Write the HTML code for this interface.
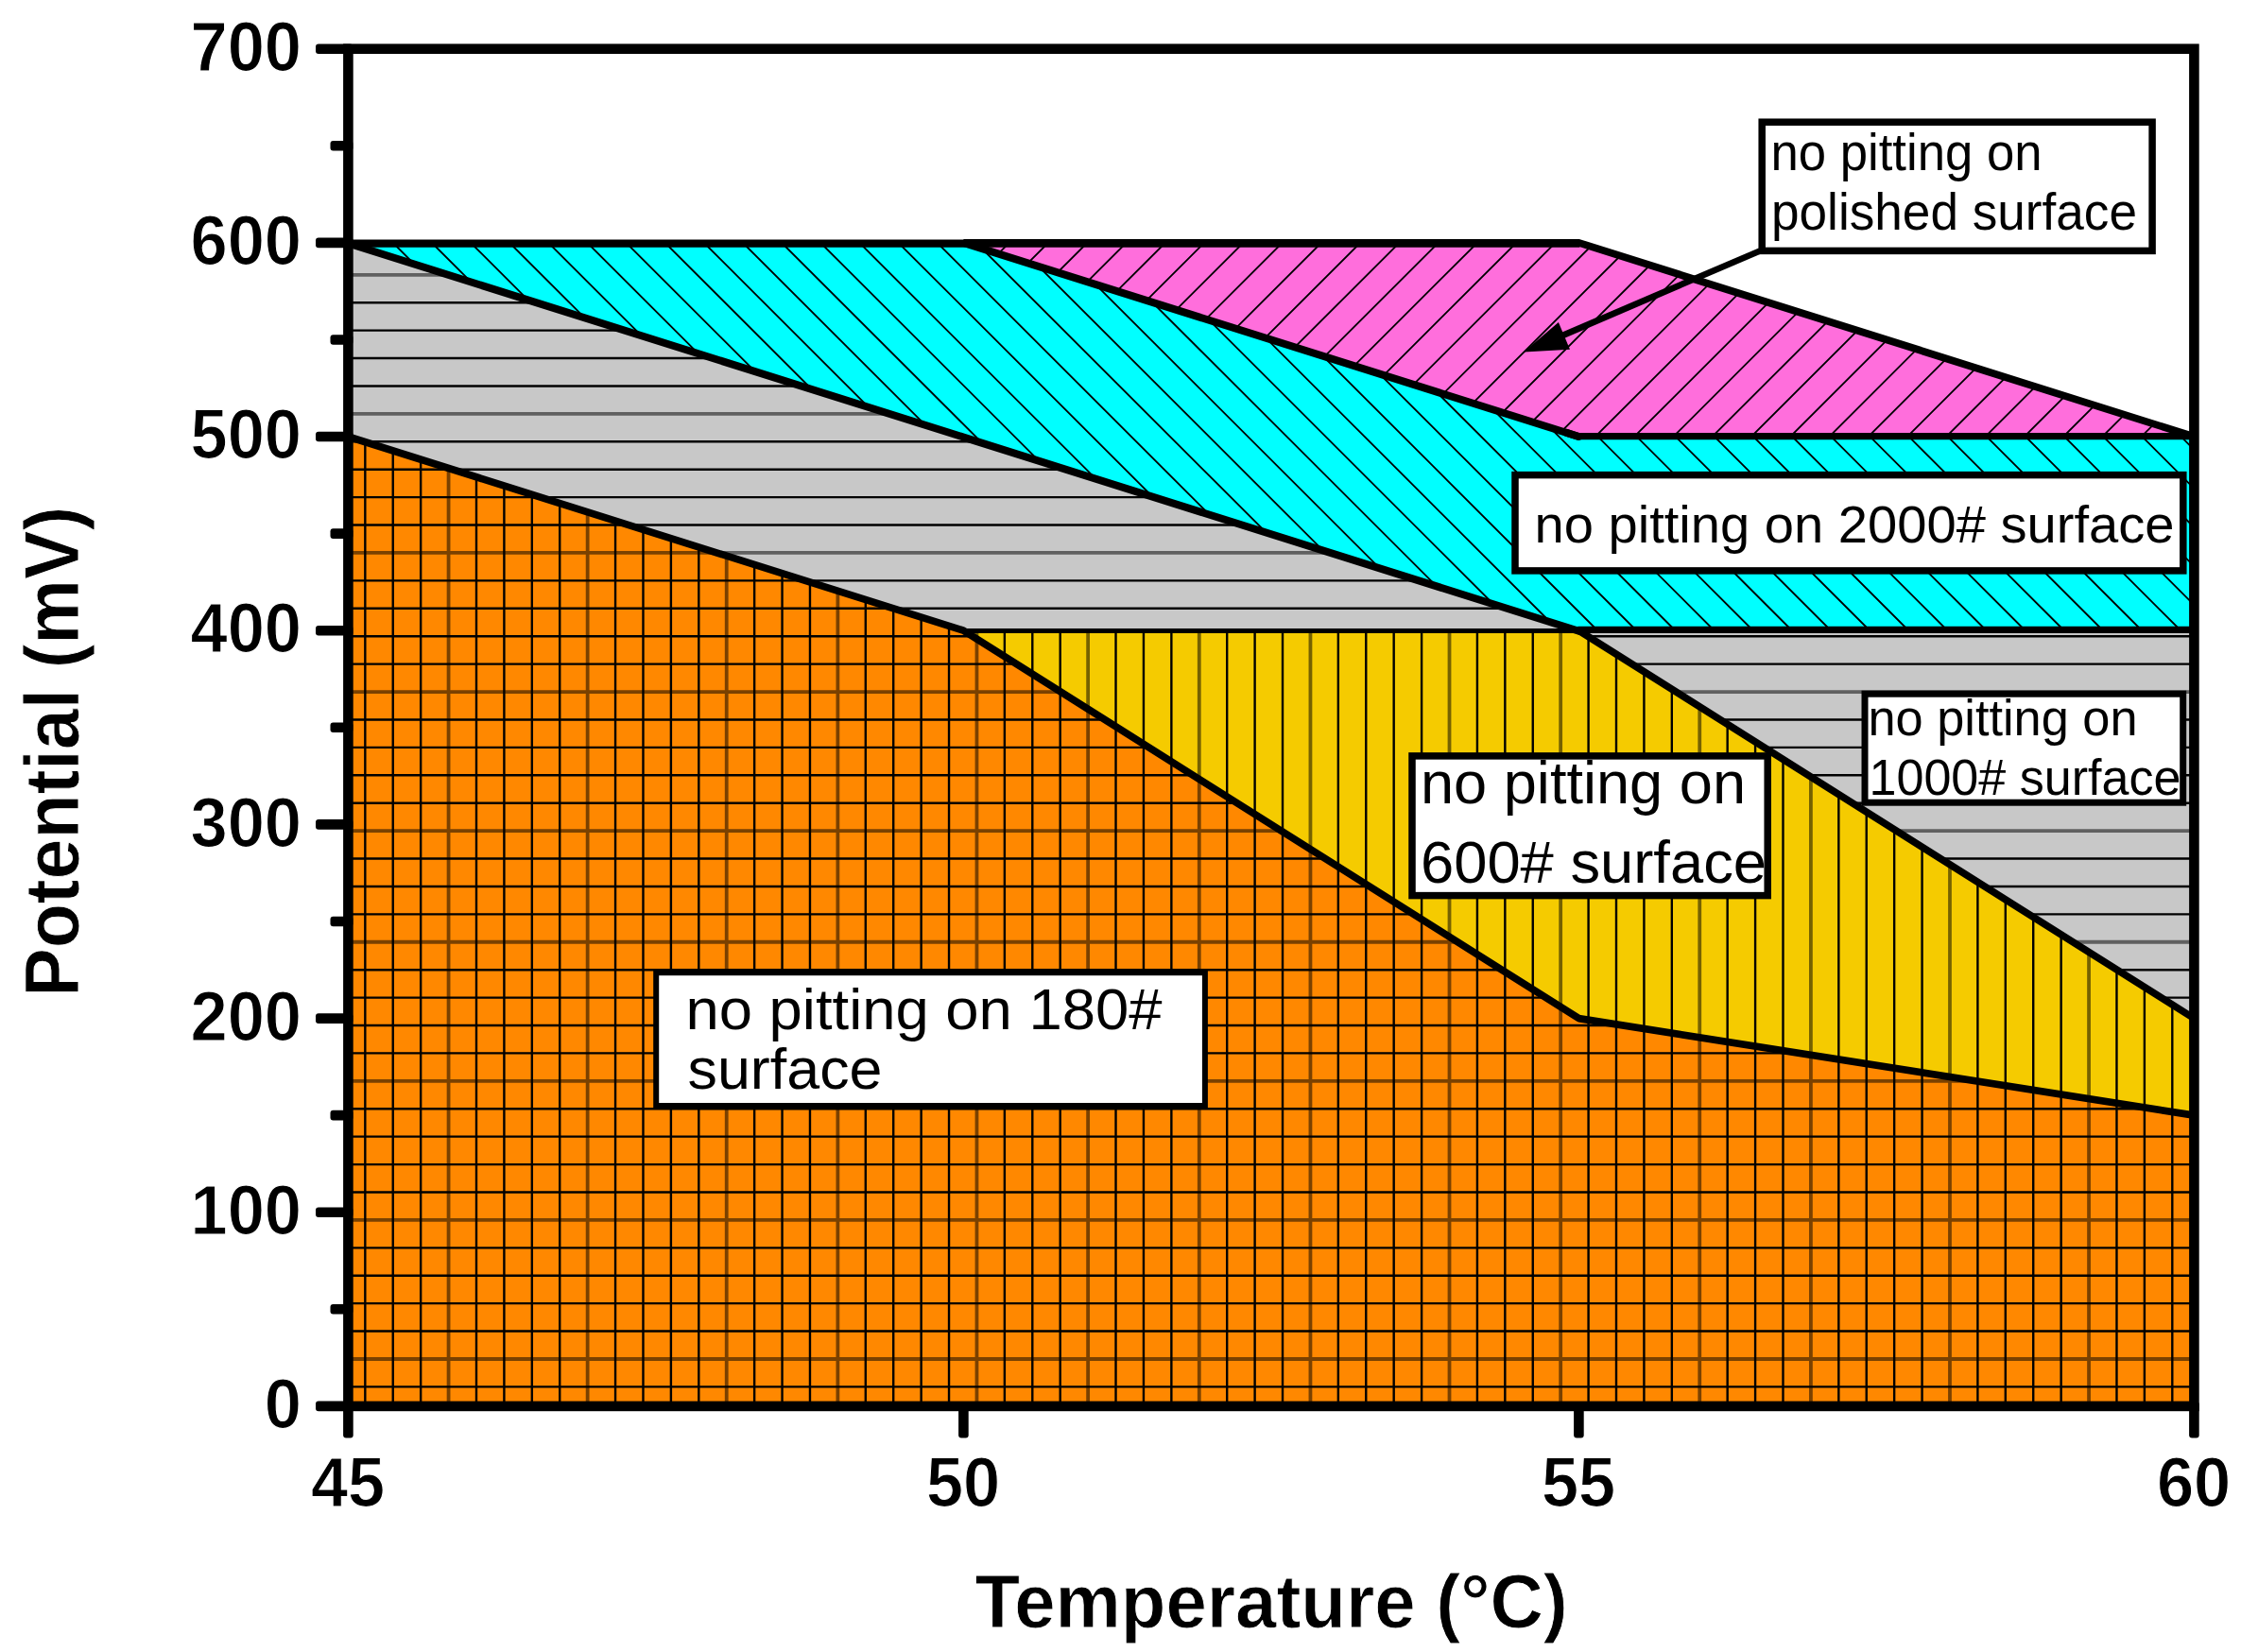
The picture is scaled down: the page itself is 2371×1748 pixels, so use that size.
<!DOCTYPE html>
<html><head><meta charset="utf-8"><title>Pitting potential map</title>
<style>
html,body{margin:0;padding:0;background:#fff;}
svg{display:block;}
text{font-family:"Liberation Sans",sans-serif;fill:#000;}
.b{font-weight:bold;}
.tk{font-size:73.4px;font-weight:bold;stroke:#fff;stroke-width:1.1px;}
.ti{font-size:80.6px;font-weight:bold;stroke:#fff;stroke-width:0.9px;}
</style></head><body>
<svg width="2371" height="1748" viewBox="0 0 2371 1748">
<rect width="2371" height="1748" fill="#fff"/>
<defs>
<clipPath id="cO"><polygon points="368.4,1487.9 368.4,462.0 1019.4,667.2 1670.4,1077.6 2321.4,1180.1 2321.4,1487.9"/></clipPath>
<clipPath id="cY"><polygon points="1019.4,667.2 1670.4,667.2 2321.4,1077.6 2321.4,1180.1 1670.4,1077.6"/></clipPath>
<clipPath id="cG"><polygon points="368.4,462.0 368.4,256.9 1019.4,462.0 1670.4,667.2 1019.4,667.2"/><polygon points="1670.4,667.2 2321.4,667.2 2321.4,1077.6"/></clipPath>
<clipPath id="cC"><polygon points="368.4,256.9 1019.4,256.9 1670.4,462.0 2321.4,462.0 2321.4,667.2 1670.4,667.2 1019.4,462.0"/></clipPath>
<clipPath id="cM"><polygon points="1019.4,256.9 1670.4,256.9 2321.4,462.0 1670.4,462.0"/></clipPath>
</defs>

<polygon points="368.4,1487.9 368.4,462.0 1019.4,667.2 1670.4,1077.6 2321.4,1180.1 2321.4,1487.9" fill="#FF8800"/>
<polygon points="1019.4,667.2 1670.4,667.2 2321.4,1077.6 2321.4,1180.1 1670.4,1077.6" fill="#F5CB00"/>
<polygon points="368.4,462.0 368.4,256.9 1019.4,462.0 1670.4,667.2 1019.4,667.2" fill="#C8C8C8"/><polygon points="1670.4,667.2 2321.4,667.2 2321.4,1077.6" fill="#C8C8C8"/>
<polygon points="368.4,256.9 1019.4,256.9 1670.4,462.0 2321.4,462.0 2321.4,667.2 1670.4,667.2 1019.4,462.0" fill="#00FFFF"/>
<polygon points="1019.4,256.9 1670.4,256.9 2321.4,462.0 1670.4,462.0" fill="#FF6EDC"/>
<g fill="none" stroke="#000" stroke-width="2.4">
<path clip-path="url(#cO)" d="M2298.30 462V1488M2268.89 462V1488M2239.47 462V1488M2180.64 462V1488M2151.23 462V1488M2121.81 462V1488M2092.39 462V1488M2033.57 462V1488M2004.15 462V1488M1974.74 462V1488M1945.32 462V1488M1886.49 462V1488M1857.08 462V1488M1827.66 462V1488M1768.83 462V1488M1739.42 462V1488M1710.00 462V1488M1680.59 462V1488M1621.76 462V1488M1592.34 462V1488M1562.93 462V1488M1504.10 462V1488M1474.68 462V1488M1445.27 462V1488M1415.85 462V1488M1357.02 462V1488M1327.61 462V1488M1298.19 462V1488M1239.36 462V1488M1209.95 462V1488M1180.53 462V1488M1121.70 462V1488M1092.29 462V1488M1062.87 462V1488M1004.04 462V1488M974.63 462V1488M945.21 462V1488M915.80 462V1488M856.97 462V1488M827.55 462V1488M798.14 462V1488M739.31 462V1488M709.89 462V1488M680.48 462V1488M651.06 462V1488M592.23 462V1488M562.82 462V1488M533.40 462V1488M503.99 462V1488M445.16 462V1488M415.74 462V1488M386.33 462V1488M368 1467.40H2321M368 1408.57H2321M368 1379.16H2321M368 1349.74H2321M368 1320.33H2321M368 1261.50H2321M368 1232.08H2321M368 1202.66H2321M368 1173.25H2321M368 1114.42H2321M368 1085.01H2321M368 1055.59H2321M368 1026.18H2321M368 967.35H2321M368 937.93H2321M368 908.52H2321M368 849.69H2321M368 820.27H2321M368 790.86H2321M368 761.44H2321M368 702.61H2321M368 673.20H2321M368 643.78H2321M368 614.37H2321M368 555.54H2321M368 526.12H2321M368 496.71H2321M368 467.29H2321"/>
<path clip-path="url(#cY)" d="M2298.30 667V1180M2268.89 667V1180M2239.47 667V1180M2180.64 667V1180M2151.23 667V1180M2121.81 667V1180M2092.39 667V1180M2033.57 667V1180M2004.15 667V1180M1974.74 667V1180M1945.32 667V1180M1886.49 667V1180M1857.08 667V1180M1827.66 667V1180M1768.83 667V1180M1739.42 667V1180M1710.00 667V1180M1680.59 667V1180M1621.76 667V1180M1592.34 667V1180M1562.93 667V1180M1504.10 667V1180M1474.68 667V1180M1445.27 667V1180M1415.85 667V1180M1357.02 667V1180M1327.61 667V1180M1298.19 667V1180M1239.36 667V1180M1209.95 667V1180M1180.53 667V1180M1121.70 667V1180M1092.29 667V1180M1062.87 667V1180"/>
<path clip-path="url(#cG)" d="M368 1055.59H2321M368 1026.18H2321M368 967.35H2321M368 937.93H2321M368 908.52H2321M368 849.69H2321M368 820.27H2321M368 790.86H2321M368 761.44H2321M368 702.61H2321M368 673.20H2321M368 643.78H2321M368 614.37H2321M368 555.54H2321M368 526.12H2321M368 496.71H2321M368 467.29H2321M368 408.46H2321M368 379.05H2321M368 349.63H2321M368 320.22H2321M368 261.39H2321"/>
<path stroke-width="1.8" clip-path="url(#cC)" d="M-77.75 257L332.59 667M-36.61 257L373.73 667M4.52 257L414.86 667M45.66 257L456.00 667M86.79 257L497.13 667M127.93 257L538.27 667M169.06 257L579.40 667M210.20 257L620.54 667M251.33 257L661.67 667M292.47 257L702.81 667M333.60 257L743.94 667M374.74 257L785.08 667M415.87 257L826.21 667M457.01 257L867.35 667M498.14 257L908.48 667M539.28 257L949.62 667M580.41 257L990.75 667M621.55 257L1031.89 667M662.68 257L1073.02 667M703.82 257L1114.16 667M744.95 257L1155.29 667M786.09 257L1196.43 667M827.22 257L1237.56 667M868.36 257L1278.70 667M909.49 257L1319.83 667M950.63 257L1360.97 667M991.76 257L1402.10 667M1032.90 257L1443.24 667M1074.03 257L1484.37 667M1115.17 257L1525.51 667M1156.30 257L1566.64 667M1197.44 257L1607.78 667M1238.57 257L1648.91 667M1279.71 257L1690.05 667M1320.84 257L1731.18 667M1361.98 257L1772.32 667M1403.11 257L1813.45 667M1444.25 257L1854.59 667M1485.38 257L1895.72 667M1526.52 257L1936.86 667M1567.65 257L1977.99 667M1608.79 257L2019.13 667M1649.92 257L2060.26 667M1691.06 257L2101.40 667M1732.19 257L2142.53 667M1773.33 257L2183.67 667M1814.46 257L2224.80 667M1855.60 257L2265.94 667M1896.73 257L2307.07 667M1937.87 257L2348.21 667M1979.00 257L2389.34 667M2020.14 257L2430.48 667M2061.27 257L2471.61 667M2102.41 257L2512.75 667M2143.54 257L2553.88 667M2184.68 257L2595.02 667M2225.81 257L2636.15 667M2266.95 257L2677.29 667M2308.08 257L2718.42 667M2349.22 257L2759.56 667"/>
<path stroke-width="1.8" clip-path="url(#cM)" d="M985.09 257L779.92 462M1026.36 257L821.19 462M1067.63 257L862.46 462M1108.90 257L903.73 462M1150.17 257L945.00 462M1191.44 257L986.27 462M1232.71 257L1027.54 462M1273.98 257L1068.81 462M1315.25 257L1110.08 462M1356.52 257L1151.35 462M1397.79 257L1192.62 462M1439.06 257L1233.89 462M1480.33 257L1275.16 462M1521.60 257L1316.43 462M1562.87 257L1357.70 462M1604.14 257L1398.97 462M1645.41 257L1440.24 462M1686.68 257L1481.51 462M1727.95 257L1522.78 462M1769.22 257L1564.05 462M1810.49 257L1605.32 462M1851.76 257L1646.59 462M1893.03 257L1687.86 462M1934.30 257L1729.13 462M1975.57 257L1770.40 462M2016.84 257L1811.67 462M2058.11 257L1852.94 462M2099.38 257L1894.21 462M2140.65 257L1935.48 462M2181.92 257L1976.75 462M2223.19 257L2018.02 462M2264.46 257L2059.29 462M2305.73 257L2100.56 462M2347.00 257L2141.83 462M2388.27 257L2183.10 462M2429.54 257L2224.37 462M2470.81 257L2265.64 462M2512.08 257L2306.91 462M2553.35 257L2348.18 462"/>
</g>
<g fill="none" stroke="#000" stroke-width="3.8" stroke-opacity="0.52">
<path clip-path="url(#cO)" d="M2210.06 462V1488M2062.98 462V1488M1915.91 462V1488M1798.25 462V1488M1651.17 462V1488M1533.51 462V1488M1386.44 462V1488M1268.78 462V1488M1151.12 462V1488M1033.46 462V1488M886.38 462V1488M768.72 462V1488M621.65 462V1488M474.57 462V1488M368 1437.99H2321M368 1290.91H2321M368 1143.84H2321M368 996.76H2321M368 879.10H2321M368 732.03H2321M368 584.95H2321"/>
<path clip-path="url(#cY)" d="M2210.06 667V1180M2062.98 667V1180M1915.91 667V1180M1798.25 667V1180M1651.17 667V1180M1533.51 667V1180M1386.44 667V1180M1268.78 667V1180M1151.12 667V1180M1033.46 667V1180"/>
<path clip-path="url(#cG)" d="M368 996.76H2321M368 879.10H2321M368 732.03H2321M368 584.95H2321M368 437.88H2321M368 290.80H2321"/>
</g>
<g fill="none" stroke="#000" stroke-linejoin="round" stroke-linecap="round">
<polyline stroke-width="5" points="1019.4,667.4 1670.4,667.4"/>
<polyline stroke-width="7.6" points="1670.4,667.2 2321.4,1077.6"/>
<polyline stroke-width="7.7" points="368.4,462.0 1019.4,667.2 1670.4,1077.6 2321.4,1180.1"/>
<polyline stroke-width="8" points="368.4,257.5 1019.4,462.6 1670.4,667.8"/>
<polyline stroke-width="7.2" points="1670.4,666.4 2321.4,666.4"/>
<polyline stroke-linecap="butt" stroke-width="8" points="1019.4,256.9 1670.4,462.0"/>
<polyline stroke-width="8" points="1657.4,457.9 1670.4,462.0"/>
<polyline stroke-width="7.3" points="1670.4,461.7 2321.4,461.7"/>
<polyline stroke-linecap="butt" stroke-width="7.8" points="1019.4,256.9 1670.4,256.9 2321.4,462.0"/>
</g>
<line x1="368.4" x2="1671.4" y1="257.6" y2="257.6" stroke="#000" stroke-width="8.2"/>
<line x1="1862" y1="265.5" x2="1650" y2="356.3" stroke="#000" stroke-width="6.7"/>
<polygon points="1612.1,372.5 1648.9,341 1661,369.8" fill="#000"/>
<rect x="1864.2" y="129.2" width="412.9" height="136.2" fill="#fff" stroke="#000" stroke-width="7.5"/>
<text x="1873.5" y="179.8" font-size="55" textLength="287.0" lengthAdjust="spacingAndGlyphs">no pitting on</text>
<text x="1874.0" y="243.4" font-size="55" textLength="387.0" lengthAdjust="spacingAndGlyphs">polished surface</text>
<rect x="1603.0" y="502.6" width="706.8" height="101.3" fill="#fff" stroke="#000" stroke-width="7.5"/>
<text x="1623.5" y="574.2" font-size="56" textLength="677.0" lengthAdjust="spacingAndGlyphs">no pitting on 2000# surface</text>
<rect x="1973.0" y="734.2" width="336.7" height="115.0" fill="#fff" stroke="#000" stroke-width="7"/>
<text x="1976.5" y="778.1" font-size="53" textLength="285.0" lengthAdjust="spacingAndGlyphs">no pitting on</text>
<text x="1977.5" y="841.3" font-size="53" textLength="330.0" lengthAdjust="spacingAndGlyphs">1000# surface</text>
<rect x="1494.0" y="799.9" width="376.2" height="147.7" fill="#fff" stroke="#000" stroke-width="7.5"/>
<text x="1503.0" y="849.6" font-size="63" textLength="344.0" lengthAdjust="spacingAndGlyphs">no pitting on</text>
<text x="1503.0" y="934.2" font-size="63" textLength="366.0" lengthAdjust="spacingAndGlyphs">600# surface</text>
<rect x="694.2" y="1029.2" width="580.7" height="140.8" fill="#fff" stroke="#000" stroke-width="6"/>
<text x="725.5" y="1089.3" font-size="62" textLength="504.0" lengthAdjust="spacingAndGlyphs">no pitting on 180#</text>
<text x="727.5" y="1151.8" font-size="62" textLength="206.0" lengthAdjust="spacingAndGlyphs">surface</text>
<rect x="368.4" y="51.7" width="1953.0" height="1436.2" fill="none" stroke="#000" stroke-width="10.6"/>
<g fill="#000"><rect x="334.0" y="1482.6" width="39.4" height="10.6" rx="3" ry="3"/><rect x="334.0" y="1277.4" width="39.4" height="10.6" rx="3" ry="3"/><rect x="334.0" y="1072.3" width="39.4" height="10.6" rx="3" ry="3"/><rect x="334.0" y="867.1" width="39.4" height="10.6" rx="3" ry="3"/><rect x="334.0" y="661.9" width="39.4" height="10.6" rx="3" ry="3"/><rect x="334.0" y="456.7" width="39.4" height="10.6" rx="3" ry="3"/><rect x="334.0" y="251.6" width="39.4" height="10.6" rx="3" ry="3"/><rect x="334.0" y="46.4" width="39.4" height="10.6" rx="3" ry="3"/><rect x="349.5" y="1380.0" width="23.9" height="10.6" rx="3" ry="3"/><rect x="349.5" y="1174.8" width="23.9" height="10.6" rx="3" ry="3"/><rect x="349.5" y="969.7" width="23.9" height="10.6" rx="3" ry="3"/><rect x="349.5" y="764.5" width="23.9" height="10.6" rx="3" ry="3"/><rect x="349.5" y="559.3" width="23.9" height="10.6" rx="3" ry="3"/><rect x="349.5" y="354.2" width="23.9" height="10.6" rx="3" ry="3"/><rect x="349.5" y="149.0" width="23.9" height="10.6" rx="3" ry="3"/><rect x="363.1" y="1482.9" width="10.6" height="38.6" rx="3" ry="3"/><rect x="1014.1" y="1482.9" width="10.6" height="38.6" rx="3" ry="3"/><rect x="1665.1" y="1482.9" width="10.6" height="38.6" rx="3" ry="3"/><rect x="2316.1" y="1482.9" width="10.6" height="38.6" rx="3" ry="3"/></g>
<text class="tk" transform="translate(319 1511.1) scale(0.96 1)" text-anchor="end">0</text>
<text class="tk" transform="translate(319 1305.9) scale(0.96 1)" text-anchor="end">100</text>
<text class="tk" transform="translate(319 1100.8) scale(0.96 1)" text-anchor="end">200</text>
<text class="tk" transform="translate(319 895.6) scale(0.96 1)" text-anchor="end">300</text>
<text class="tk" transform="translate(319 690.4) scale(0.96 1)" text-anchor="end">400</text>
<text class="tk" transform="translate(319 485.2) scale(0.96 1)" text-anchor="end">500</text>
<text class="tk" transform="translate(319 280.1) scale(0.96 1)" text-anchor="end">600</text>
<text class="tk" transform="translate(319 74.9) scale(0.96 1)" text-anchor="end">700</text>
<text class="tk" transform="translate(368.1 1593.6) scale(0.96 1)" text-anchor="middle">45</text>
<text class="tk" transform="translate(1019.1 1593.6) scale(0.96 1)" text-anchor="middle">50</text>
<text class="tk" transform="translate(1670.1 1593.6) scale(0.96 1)" text-anchor="middle">55</text>
<text class="tk" transform="translate(2321.1 1593.6) scale(0.96 1)" text-anchor="middle">60</text>
<text class="ti" transform="translate(1345 1722.2) scale(0.967 1)" text-anchor="middle">Temperature (°C)</text>
<text class="ti" transform="translate(82.8 795.3) rotate(-90) scale(0.958 1)" text-anchor="middle">Potential (mV)</text>
</svg></body></html>
